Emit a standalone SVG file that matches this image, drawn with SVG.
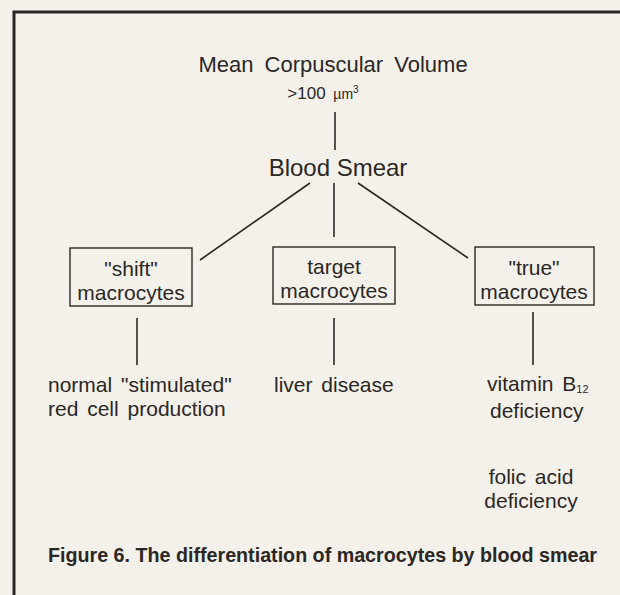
<svg xmlns="http://www.w3.org/2000/svg" width="620" height="595" viewBox="0 0 620 595">
<style>
.t{font-family:"Liberation Sans","DejaVu Sans",sans-serif;fill:#2b2725;}
.n{font-size:21px;}
.c{font-family:"Liberation Sans","DejaVu Sans",sans-serif;font-weight:bold;font-size:20px;fill:#2b2725;}
.ln{stroke:#2b2725;stroke-width:1.6;fill:none;}
.box{stroke:#2b2725;stroke-width:1.4;fill:none;}
</style>
<rect x="0" y="0" width="620" height="595" fill="#f4f0ea"/>
<path d="M14 595 V12 H620" fill="none" stroke="#2b2725" stroke-width="3"/>
<g id="connectors">
<line class="ln" x1="335" y1="112" x2="335" y2="150"/>
<line class="ln" x1="310" y1="183" x2="200" y2="260"/>
<line class="ln" x1="334" y1="183" x2="334" y2="237"/>
<line class="ln" x1="358" y1="183" x2="468" y2="258"/>
<line class="ln" x1="137" y1="318" x2="137" y2="365"/>
<line class="ln" x1="334" y1="318" x2="334" y2="365"/>
<line class="ln" x1="533" y1="312" x2="533" y2="365"/>
</g>
<g id="mcv">
<text class="t" x="333" y="72" font-size="22" text-anchor="middle" word-spacing="5">Mean Corpuscular Volume</text>
<text class="t" x="323" y="99" font-size="17" text-anchor="middle" word-spacing="3">&gt;100 <tspan font-size="14">µm</tspan><tspan font-size="10" dy="-6">3</tspan></text>
</g>
<g id="smear">
<text class="t" x="338" y="176" font-size="24" text-anchor="middle">Blood Smear</text>
</g>
<g id="shift">
<rect class="box" x="70" y="248" width="122" height="58"/>
<text class="t n" x="131" y="276" text-anchor="middle">"shift"</text>
<text class="t n" x="131" y="300" text-anchor="middle">macrocytes</text>
</g>
<g id="target">
<rect class="box" x="273" y="247" width="122" height="57"/>
<text class="t n" x="334" y="274" text-anchor="middle">target</text>
<text class="t n" x="334" y="298" text-anchor="middle">macrocytes</text>
</g>
<g id="true">
<rect class="box" x="475" y="247" width="119" height="58"/>
<text class="t n" x="534" y="275" text-anchor="middle">"true"</text>
<text class="t n" x="534" y="299" text-anchor="middle">macrocytes</text>
</g>
<g id="normal">
<text class="t n" x="48" y="392" word-spacing="3">normal "stimulated"</text>
<text class="t n" x="48" y="416" word-spacing="3">red cell production</text>
</g>
<g id="liver">
<text class="t n" x="274" y="392" word-spacing="3">liver disease</text>
</g>
<g id="b12">
<text class="t n" x="487" y="391" word-spacing="3">vitamin B<tspan font-size="11" dy="2">12</tspan></text>
<text class="t n" x="490" y="418">deficiency</text>
</g>
<g id="folic">
<text class="t n" x="531" y="484" text-anchor="middle" word-spacing="3">folic acid</text>
<text class="t n" x="531" y="508" text-anchor="middle">deficiency</text>
</g>
<text class="c" x="48" y="562" textLength="549" lengthAdjust="spacingAndGlyphs">Figure 6.  The differentiation of macrocytes by blood smear</text>
</svg>
